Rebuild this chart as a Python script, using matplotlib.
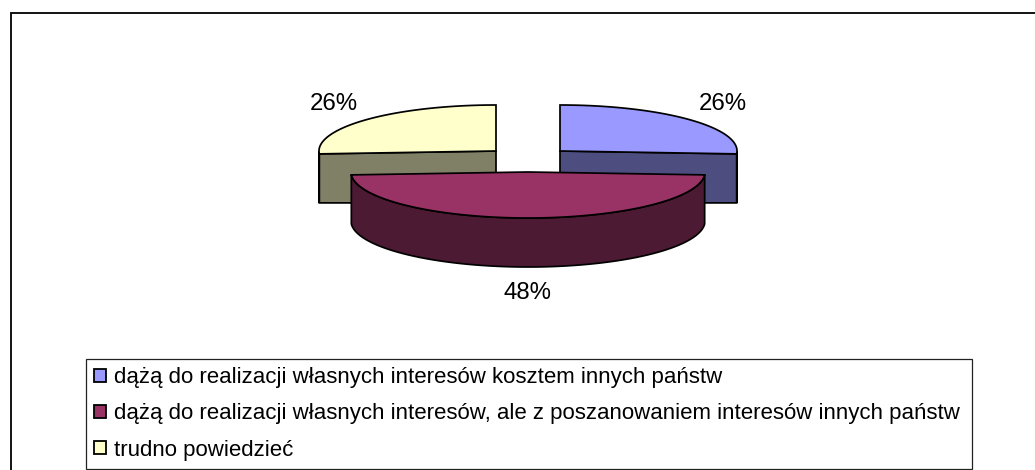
import numpy as np
import matplotlib
matplotlib.use("Agg")
import matplotlib.pyplot as plt
from matplotlib.patches import Patch, Polygon, Rectangle

labels = [
    "dążą do realizacji własnych interesów kosztem innych państw",
    "dążą do realizacji własnych interesów, ale z poszanowaniem interesów innych państw",
    "trudno powiedzieć",
]
values = [26, 48, 26]
top_colors = ["#9999FF", "#993366", "#FFFFCC"]
side_colors = ["#4D4D80", "#4D1A33", "#808066"]

# srodki wycinkow (rozsuniety wykres kolowy), w pikselach
centers = [(560, 151), (528, 172), (496, 151)]
RX, RY, DEPTH = 177, 46, 49
LW = 1.25

plt.rcParams["font.family"] = ["Liberation Sans", "DejaVu Sans"]

fig = plt.figure(figsize=(10.35, 4.7), dpi=100)
ax = fig.add_axes([0, 0, 1, 1])
ax.set_xlim(0, 1035)
ax.set_ylim(470, 0)
ax.axis("off")

# ramka wykresu wychodzi poza obraz z prawej i od dolu
ax.add_patch(Rectangle((10.5, 12.5), 1100, 500, facecolor="white", edgecolor="black", lw=1.3, zorder=0))


def point(c, a, dy=0):
    # kat liczony od godziny 12 zgodnie z ruchem wskazowek
    a = np.radians(a)
    return c[0] + RX * np.sin(a), c[1] - RY * np.cos(a) + dy


ends = np.cumsum(values) / np.sum(values) * 360
starts = ends - np.array(values) / np.sum(values) * 360

for z, i in enumerate([2, 0, 1]):
    c = centers[i]
    arc = np.linspace(starts[i], ends[i], 120)
    top = [c] + [point(c, a) for a in arc]
    z = 2 + z * 3
    # sciana przednia zaokraglona
    front = arc[(arc > 90) & (arc < 270)]
    if len(front):
        wall = [point(c, a) for a in front] + [point(c, a, DEPTH) for a in front[::-1]]
        ax.add_patch(Polygon(wall, closed=True, facecolor=side_colors[i], edgecolor="black", lw=LW, zorder=z))
    # sciany promieniowe widoczne przy wycinkach bocznych
    a = {0: ends[0], 2: starts[2]}.get(i)
    if a is not None:
        p = point(c, a)
        cut = [c, p, (p[0], p[1] + DEPTH), (c[0], c[1] + DEPTH + 3)]
        ax.add_patch(Polygon(cut, closed=True, facecolor=side_colors[i], edgecolor="black", lw=LW, zorder=z))
    ax.add_patch(Polygon(top, closed=True, facecolor=top_colors[i], edgecolor="black", lw=LW, zorder=z + 1))

label_pos = [(723, 104), (528, 293), (334, 104)]
for v, (x, y) in zip(values, label_pos):
    ax.text(x, y, f"{v}%", ha="center", va="center", fontsize=17.3, color="black", zorder=20)

handles = [Patch(facecolor=c, edgecolor="black", lw=1.3) for c in top_colors]
leg = ax.legend(
    handles, labels, loc="lower left",
    bbox_to_anchor=(85.5 / 1035, 1 - 469 / 470, 886.5 / 1035, 109 / 470),
    bbox_transform=fig.transFigure, mode="expand", fontsize=16.03, frameon=True, fancybox=False,
    edgecolor="#222222", framealpha=1, borderaxespad=0, borderpad=0.38,
    handlelength=0.56, handleheight=0.56, handletextpad=0.32, labelspacing=0.68,
)
leg.get_frame().set_linewidth(0.9)
leg.set_zorder(30)

fig.savefig("out.png", dpi=100)
